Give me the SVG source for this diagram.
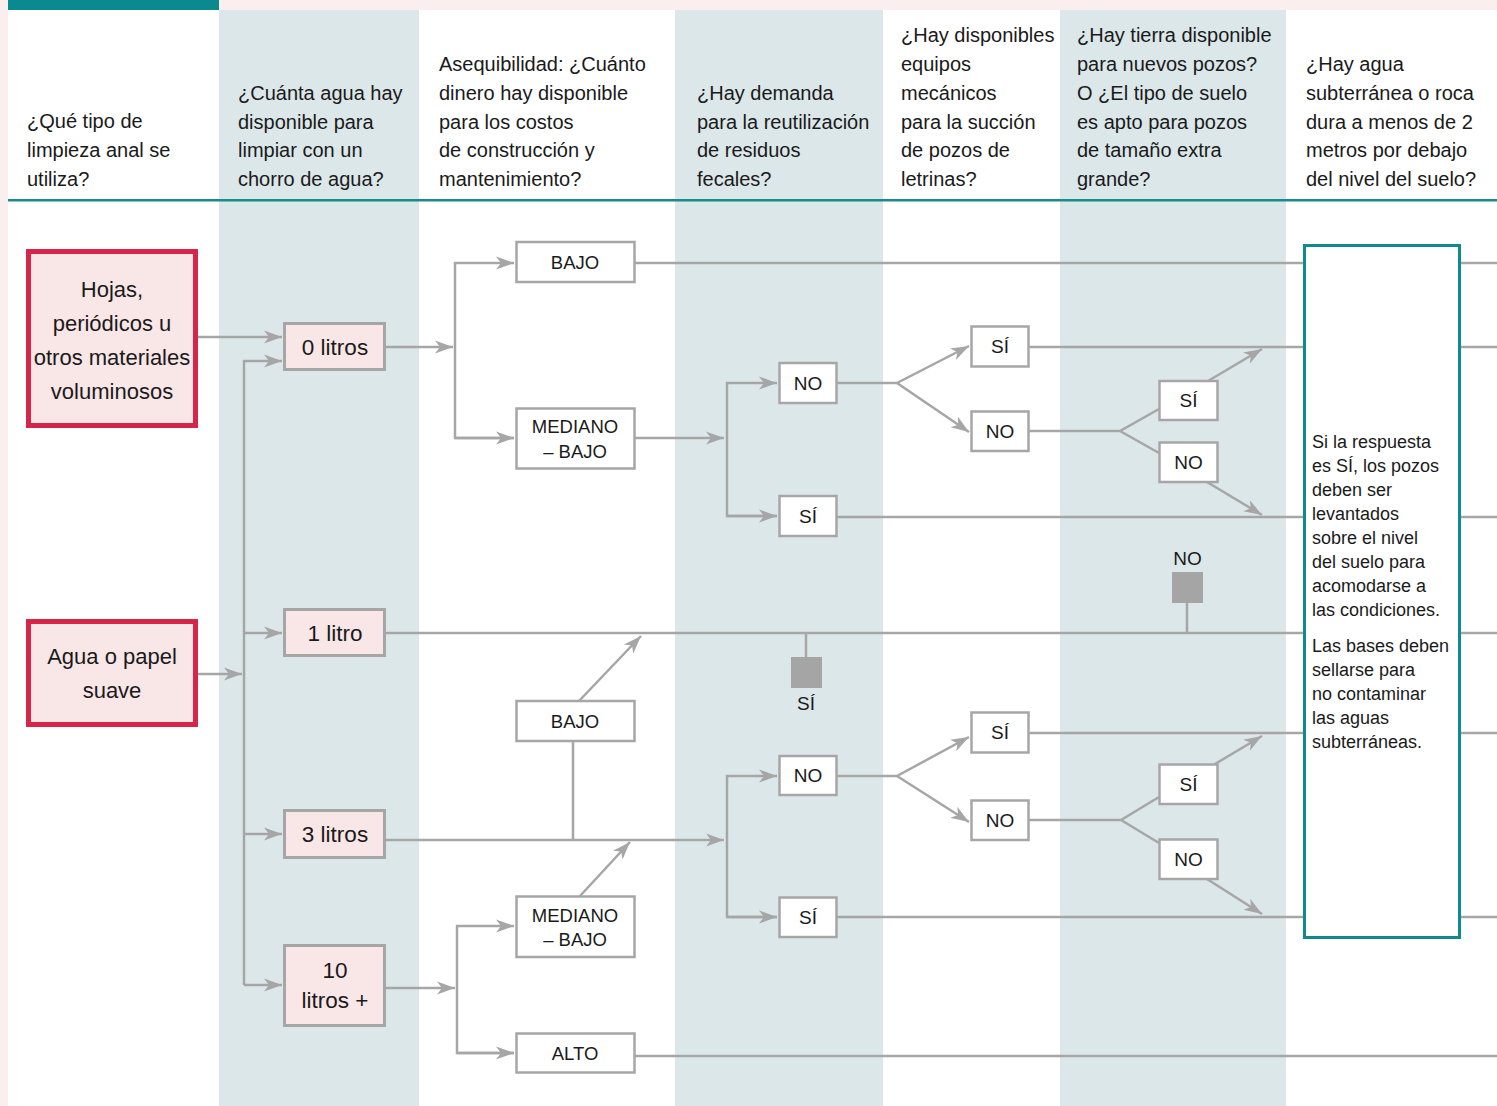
<svg xmlns="http://www.w3.org/2000/svg" width="1497" height="1106" viewBox="0 0 1497 1106">
<style>
text{font-family:"Liberation Sans",Arial,sans-serif;fill:#1a1a1a}
.hd{font-size:20px}
.c{stroke:#a6a6a6;stroke-width:2.5;fill:none}
.a{marker-end:url(#ah)}
.red rect{fill:#f9e6e6;stroke:#d6244a;stroke-width:5}
.red text{font-size:22px;text-anchor:middle}
.lit rect{fill:#f9e6e6;stroke:#a6a6a6;stroke-width:3}
.lit text{font-size:22.5px;text-anchor:middle}
.wb rect{fill:#ffffff;stroke:#a6a6a6;stroke-width:2.5}
.wb text{font-size:18.5px;text-anchor:middle}
.yn rect{fill:#ffffff;stroke:#a6a6a6;stroke-width:2.5}
.yn text{font-size:19px;text-anchor:middle}
.sq rect{fill:#a5a5a5}
.sq text{font-size:19px;text-anchor:middle}
.note rect{fill:#ffffff;stroke:#0f8b90;stroke-width:3}
.note text{font-size:18px}
</style>
<defs>
<marker id="ah" markerUnits="userSpaceOnUse" markerWidth="20" markerHeight="14" viewBox="0 -7 20 14" refX="18" refY="0" orient="auto">
<path d="M0,-6.5 L18,0 L0,6.5 L5,0 z" fill="#a6a6a6"/>
</marker>
</defs>
<g id="background">
<rect x="0" y="0" width="1497" height="1106" fill="#ffffff"/>
<rect x="0" y="0" width="8" height="1106" fill="#fbeeee"/>
<rect x="219" y="0" width="1278" height="10" fill="#fbeeee"/>
<rect x="8" y="0" width="211" height="10" fill="#0a8a8f"/>
<rect x="219" y="10" width="200" height="1096" fill="#dce7e9"/>
<rect x="675" y="10" width="208" height="1096" fill="#dce7e9"/>
<rect x="1060" y="10" width="226" height="1096" fill="#dce7e9"/>
<rect x="8" y="199" width="1489" height="2.5" fill="#1a8a8f"/>
</g>
<g id="headers" class="hd">
<text x="27" y="128">¿Qué tipo de</text>
<text x="27" y="157">limpieza anal se</text>
<text x="27" y="185.5">utiliza?</text>
<text x="238" y="100">¿Cuánta agua hay</text>
<text x="238" y="128.5">disponible para</text>
<text x="238" y="157">limpiar con un</text>
<text x="238" y="185.5">chorro de agua?</text>
<text x="439" y="71">Asequibilidad: ¿Cuánto</text>
<text x="439" y="99.5">dinero hay disponible</text>
<text x="439" y="128.5">para los costos</text>
<text x="439" y="157">de construcción y</text>
<text x="439" y="185.5">mantenimiento?</text>
<text x="697" y="99.5">¿Hay demanda</text>
<text x="697" y="128.5">para la reutilización</text>
<text x="697" y="157">de residuos</text>
<text x="697" y="185.5">fecales?</text>
<text x="901" y="42">¿Hay disponibles</text>
<text x="901" y="71">equipos</text>
<text x="901" y="99.5">mecánicos</text>
<text x="901" y="128.5">para la succión</text>
<text x="901" y="157">de pozos de</text>
<text x="901" y="185.5">letrinas?</text>
<text x="1077" y="42">¿Hay tierra disponible</text>
<text x="1077" y="71">para nuevos pozos?</text>
<text x="1077" y="99.5">O ¿El tipo de suelo</text>
<text x="1077" y="128.5">es apto para pozos</text>
<text x="1077" y="157">de tamaño extra</text>
<text x="1077" y="185.5">grande?</text>
<text x="1306" y="71">¿Hay agua</text>
<text x="1306" y="99.5">subterránea o roca</text>
<text x="1306" y="128.5">dura a menos de 2</text>
<text x="1306" y="157">metros por debajo</text>
<text x="1306" y="185.5">del nivel del suelo?</text>
</g>
<g id="connectors">
<path class="c a" d="M198,337 H282"/>
<path class="c a" d="M198,674 H242"/>
<path class="c a" d="M244,985 V361 H282"/>
<path class="c a" d="M244,633 H282"/>
<path class="c a" d="M244,834 H282"/>
<path class="c a" d="M244,985 H282"/>
<path class="c a" d="M386,347 H453"/>
<path class="c a" d="M514,438 H455 V263 H514"/>
<path class="c a" d="M455,438 H514"/>
<path class="c" d="M635,263 H1303 M1461,263 H1497"/>
<path class="c a" d="M635,438 H724"/>
<path class="c a" d="M777,516 H727 V383 H777"/>
<path class="c a" d="M727,516 H777"/>
<path class="c" d="M837,383 H897"/>
<path class="c a" d="M897,383 L969,346"/>
<path class="c a" d="M897,383 L969,432"/>
<path class="c" d="M1029,347 H1303 M1461,347 H1497"/>
<path class="c" d="M1029,431 H1120 L1159,409 M1120,431 L1159,453"/>
<path class="c a" d="M1208,381 L1262,349"/>
<path class="c a" d="M1207,482 L1262,515"/>
<path class="c" d="M837,517 H1303 M1461,517 H1497"/>
<path class="c" d="M386,633 H1303 M1461,633 H1497"/>
<path class="c" d="M806,633 V657 M1187,603 V633"/>
<path class="c a" d="M579,701 L641,636"/>
<path class="c" d="M573,741 V840"/>
<path class="c a" d="M386,840 H724"/>
<path class="c a" d="M777,917 H727 V776 H777"/>
<path class="c a" d="M727,917 H777"/>
<path class="c a" d="M580,896 L630,842"/>
<path class="c a" d="M386,988 H455"/>
<path class="c a" d="M514,1053 H457 V926 H514"/>
<path class="c a" d="M457,1053 H514"/>
<path class="c" d="M635,1056 H1497"/>
<path class="c" d="M837,776 H897"/>
<path class="c a" d="M897,776 L969,737"/>
<path class="c a" d="M897,776 L969,822"/>
<path class="c" d="M1029,733 H1303 M1461,733 H1497"/>
<path class="c" d="M1029,820 H1121 L1159,797 M1121,820 L1159,843"/>
<path class="c a" d="M1215,764 L1262,736"/>
<path class="c a" d="M1207,879 L1262,914"/>
<path class="c" d="M837,917 H1303 M1461,917 H1497"/>
</g>
<g id="n-hojas" class="red"><rect x="28.5" y="251.5" width="167" height="174"/>
<text x="112" y="297">Hojas,</text><text x="112" y="331">periódicos u</text><text x="112" y="365">otros materiales</text><text x="112" y="399">voluminosos</text></g>
<g id="n-agua" class="red"><rect x="28.5" y="621.5" width="167" height="103"/>
<text x="112" y="664">Agua o papel</text><text x="112" y="698">suave</text></g>
<g id="n-0litros" class="lit"><rect x="284.5" y="323.5" width="100" height="46"/><text x="335" y="355">0 litros</text></g>
<g id="n-1litro" class="lit"><rect x="284.5" y="609.5" width="100" height="46"/><text x="335" y="641">1 litro</text></g>
<g id="n-3litros" class="lit"><rect x="284.5" y="810.5" width="100" height="47"/><text x="335" y="842">3 litros</text></g>
<g id="n-10litros" class="lit"><rect x="284.5" y="945.5" width="100" height="80"/><text x="335" y="978">10</text><text x="335" y="1008">litros +</text></g>
<g id="n-bajo1" class="wb"><rect x="516.5" y="242" width="118" height="40"/><text x="575" y="269">BAJO</text></g>
<g id="n-mediano1" class="wb"><rect x="516.5" y="408.5" width="118" height="60"/><text x="575" y="433">MEDIANO</text><text x="575" y="458">– BAJO</text></g>
<g id="n-bajo2" class="wb"><rect x="516.5" y="701" width="118" height="40"/><text x="575" y="728">BAJO</text></g>
<g id="n-mediano2" class="wb"><rect x="516.5" y="896.5" width="118" height="60.5"/><text x="575" y="922">MEDIANO</text><text x="575" y="946">– BAJO</text></g>
<g id="n-alto" class="wb"><rect x="516.5" y="1033.5" width="118" height="39"/><text x="575" y="1060">ALTO</text></g>
<g id="n-no4a" class="yn"><rect x="779.5" y="363" width="57" height="40"/><text x="808" y="389.5">NO</text></g>
<g id="n-si4a" class="yn"><rect x="779.5" y="496" width="57" height="40"/><text x="808" y="523">SÍ</text></g>
<g id="n-no4b" class="yn"><rect x="779.5" y="756" width="57" height="39"/><text x="808" y="782">NO</text></g>
<g id="n-si4b" class="yn"><rect x="779.5" y="897.5" width="57" height="39.5"/><text x="808" y="924">SÍ</text></g>
<g id="n-si5a" class="yn"><rect x="971.5" y="326.5" width="57" height="40"/><text x="1000" y="353">SÍ</text></g>
<g id="n-no5a" class="yn"><rect x="971.5" y="411.5" width="57" height="39.5"/><text x="1000" y="438">NO</text></g>
<g id="n-si5b" class="yn"><rect x="971.5" y="712.5" width="57" height="40"/><text x="1000" y="739">SÍ</text></g>
<g id="n-no5b" class="yn"><rect x="971.5" y="800.5" width="57" height="39.5"/><text x="1000" y="827">NO</text></g>
<g id="n-si6a" class="yn"><rect x="1159.5" y="381" width="58" height="39"/><text x="1188.5" y="407">SÍ</text></g>
<g id="n-no6a" class="yn"><rect x="1159.5" y="442.5" width="58" height="39.5"/><text x="1188.5" y="469">NO</text></g>
<g id="n-si6b" class="yn"><rect x="1159.5" y="764.5" width="58" height="39.5"/><text x="1188.5" y="791">SÍ</text></g>
<g id="n-no6b" class="yn"><rect x="1159.5" y="839.5" width="58" height="39.5"/><text x="1188.5" y="866">NO</text></g>
<g id="n-sq-si" class="sq"><rect x="791" y="657" width="31" height="31"/><text x="806" y="710">SÍ</text></g>
<g id="n-sq-no" class="sq"><rect x="1172" y="572" width="31" height="31"/><text x="1187.5" y="565">NO</text></g>
<g id="n-note" class="note"><rect x="1304.5" y="245.5" width="155" height="692"/>
<text x="1312" y="448">Si la respuesta</text>
<text x="1312" y="472">es SÍ, los pozos</text>
<text x="1312" y="496">deben ser</text>
<text x="1312" y="520">levantados</text>
<text x="1312" y="544">sobre el nivel</text>
<text x="1312" y="568">del suelo para</text>
<text x="1312" y="592">acomodarse a</text>
<text x="1312" y="616">las condiciones.</text>
<text x="1312" y="652">Las bases deben</text>
<text x="1312" y="676">sellarse para</text>
<text x="1312" y="700">no contaminar</text>
<text x="1312" y="724">las aguas</text>
<text x="1312" y="748">subterráneas.</text>
</g>
</svg>
